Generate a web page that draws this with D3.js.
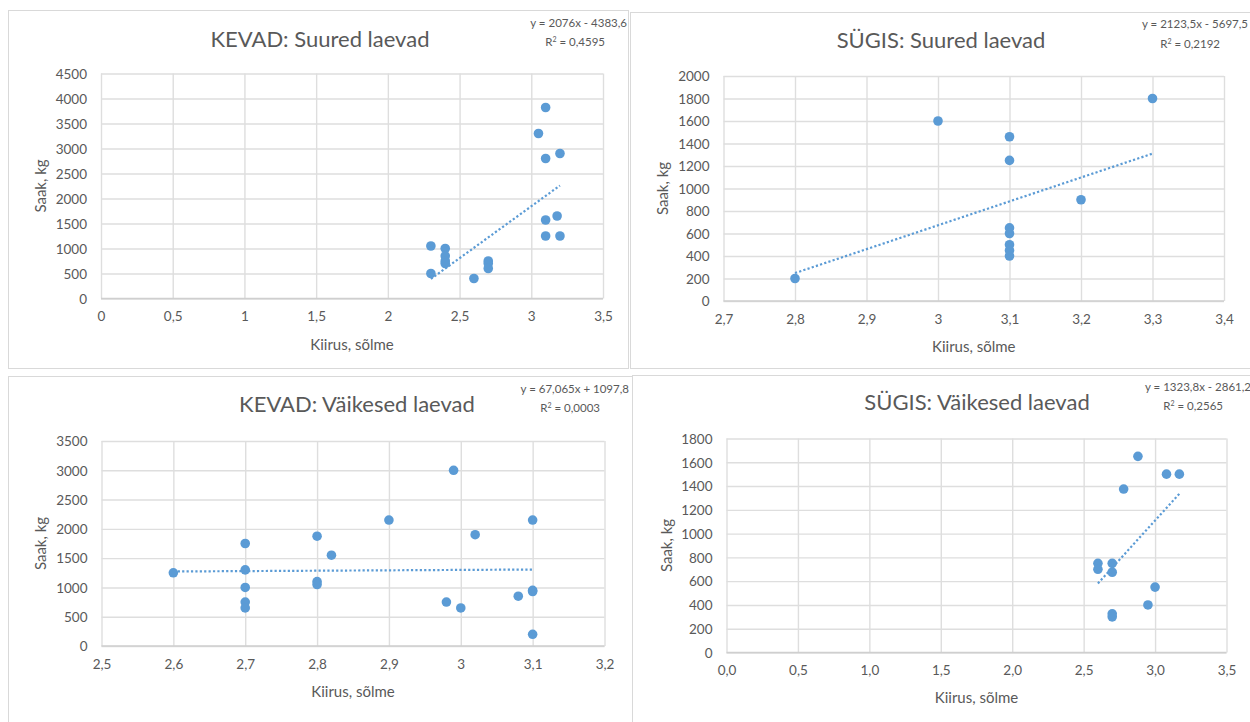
<!DOCTYPE html>
<html>
<head>
<meta charset="utf-8">
<script src="https://cdn.jsdelivr.net/npm/d3@7"></script>
<style>
  html, body { margin: 0; padding: 0; background: #ffffff; }
  svg { display: block; font-family: Lato, "Open Sans", sans-serif; }
</style>
</head>
<body>
<svg id="chart" width="1250" height="722"></svg>
<script>
// Saak (kg) vs kiirus (sõlme), four groups
const kevadSuuredX = [2.3, 2.3, 2.4, 2.4, 2.4, 2.4, 2.6, 2.7, 2.7, 2.7, 3.05, 3.1, 3.1, 3.2, 3.1, 3.18, 3.1, 3.2];
const kevadSuuredY = [1050, 500, 1000, 850, 750, 700, 400, 750, 700, 600, 3300, 3820, 2800, 2900, 1570, 1650, 1250, 1250];

const sygisSuuredX = [2.8, 3.0, 3.1, 3.1, 3.1, 3.1, 3.1, 3.1, 3.1, 3.2, 3.3];
const sygisSuuredY = [200, 1600, 1460, 1250, 650, 600, 500, 450, 400, 900, 1800];

const kevadVaikesedX = [2.6, 2.7, 2.7, 2.7, 2.7, 2.7, 2.8, 2.8, 2.8, 2.82, 2.9, 2.98, 2.99, 3.0, 3.02, 3.08, 3.1, 3.1, 3.1, 3.1];
const kevadVaikesedY = [1250, 1750, 1300, 1000, 750, 650, 1875, 1100, 1050, 1550, 2150, 750, 3000, 650, 1900, 850, 2150, 950, 930, 200];

const sygisVaikesedX = [2.6, 2.6, 2.7, 2.7, 2.7, 2.7, 2.78, 2.88, 2.95, 3.0, 3.08, 3.17];
const sygisVaikesedY = [750, 700, 750, 675, 325, 300, 1375, 1650, 400, 550, 1500, 1500];

// Linear trend lines: y = slope * x + intercept
const trendSlopes = [2076, 2123.5, 67.065, 1323.8];
const trendIntercepts = [-4383.6, -5697.5, 1097.8, -2861.2];
const rSquared = ["0,4595", "0,2192", "0,0003", "0,2565"];

const titles = ["KEVAD: Suured laevad", "SÜGIS: Suured laevad", "KEVAD: Väikesed laevad", "SÜGIS: Väikesed laevad"];

// Axis ticks
const xTicksKevadSuured = [0, 0.5, 1, 1.5, 2, 2.5, 3, 3.5];
const xLabelsKevadSuured = ["0", "0,5", "1", "1,5", "2", "2,5", "3", "3,5"];
const yTicksKevadSuured = [0, 500, 1000, 1500, 2000, 2500, 3000, 3500, 4000, 4500];

const xTicksSygisSuured = [2.7, 2.8, 2.9, 3.0, 3.1, 3.2, 3.3, 3.4];
const xLabelsSygisSuured = ["2,7", "2,8", "2,9", "3", "3,1", "3,2", "3,3", "3,4"];
const yTicksSygisSuured = [0, 200, 400, 600, 800, 1000, 1200, 1400, 1600, 1800, 2000];

const xTicksKevadVaikesed = [2.5, 2.6, 2.7, 2.8, 2.9, 3.0, 3.1, 3.2];
const xLabelsKevadVaikesed = ["2,5", "2,6", "2,7", "2,8", "2,9", "3", "3,1", "3,2"];
const yTicksKevadVaikesed = [0, 500, 1000, 1500, 2000, 2500, 3000, 3500];

const xTicksSygisVaikesed = [0, 0.5, 1, 1.5, 2, 2.5, 3, 3.5];
const xLabelsSygisVaikesed = ["0,0", "0,5", "1,0", "1,5", "2,0", "2,5", "3,0", "3,5"];
const yTicksSygisVaikesed = [0, 200, 400, 600, 800, 1000, 1200, 1400, 1600, 1800];

const xAxisTitle = "Kiirus, sõlme";
const yAxisTitle = "Saak, kg";

// Panel layout (pixel geometry)
const panels = [
  { xs: kevadSuuredX, ys: kevadSuuredY, xTicks: xTicksKevadSuured, xLabels: xLabelsKevadSuured, yTicks: yTicksKevadSuured,
    frame: [8, 10, 620, 358], plot: [101, 73.5, 603, 298.5],
    titleX: 320, titleY: 47, eqX: 627, eqY: 27, r2X: 605, r2Y: 46, xTitleY: 350, yTitleX: 40 },
  { xs: sygisSuuredX, ys: sygisSuuredY, xTicks: xTicksSygisSuured, xLabels: xLabelsSygisSuured, yTicks: yTicksSygisSuured,
    frame: [630, 12, 640, 356], plot: [723.5, 76, 1224, 301],
    titleX: 941, titleY: 48, eqX: 1248, eqY: 28, r2X: 1220, r2Y: 48, xTitleY: 352, yTitleX: 662 },
  { xs: kevadVaikesedX, ys: kevadVaikesedY, xTicks: xTicksKevadVaikesed, xLabels: xLabelsKevadVaikesed, yTicks: yTicksKevadVaikesed,
    frame: [8, 376, 624, 360], plot: [101.5, 441, 604.5, 646],
    titleX: 357, titleY: 412, eqX: 629, eqY: 393, r2X: 600, r2Y: 412, xTitleY: 697, yTitleX: 40 },
  { xs: sygisVaikesedX, ys: sygisVaikesedY, xTicks: xTicksSygisVaikesed, xLabels: xLabelsSygisVaikesed, yTicks: yTicksSygisVaikesed,
    frame: [632, 375, 640, 360], plot: [726.5, 438.5, 1226.5, 652.5],
    titleX: 977, titleY: 410, eqX: 1251, eqY: 391, r2X: 1223, r2Y: 410, xTitleY: 703, yTitleX: 666 }
];

const TEXT = "#595959";
const GRID = "#dedede";
const DOT = "#5b9bd5";

const fmtNum = v => String(Math.abs(v)).replace(".", ",");

const svg = d3.select("#chart");

panels.forEach((p, i) => {
  const g = svg.append("g");
  const [fx, fy, fw, fh] = p.frame;
  g.append("rect").attr("x", fx + 0.5).attr("y", fy + 0.5).attr("width", fw).attr("height", fh)
    .attr("fill", "#ffffff").attr("stroke", "#d9d9d9").attr("stroke-width", 1);

  const [x0, y0, x1, y1] = p.plot;
  const x = d3.scaleLinear().domain(d3.extent(p.xTicks)).range([x0, x1]);
  const y = d3.scaleLinear().domain(d3.extent(p.yTicks)).range([y1, y0]);

  // Gridlines
  const xAxis = d3.axisBottom(x).tickValues(p.xTicks).tickSize(-(y1 - y0)).tickFormat((d, k) => p.xLabels[k]).tickPadding(13);
  const yAxis = d3.axisLeft(y).tickValues(p.yTicks).tickSize(-(x1 - x0)).tickFormat(d => String(d)).tickPadding(14);

  const gx = g.append("g").attr("transform", `translate(0,${y1})`).call(xAxis);
  const gy = g.append("g").attr("transform", `translate(${x0},0)`).call(yAxis);
  [gx, gy].forEach(ax => {
    ax.select(".domain").remove();
    ax.selectAll(".tick line").attr("stroke", GRID).attr("stroke-width", 1.4);
    ax.selectAll(".tick text").attr("fill", TEXT).style("font-size", "13.5px").style("font-family", "Lato, sans-serif");
  });
  gy.selectAll(".tick text").attr("dy", "0.35em");
  // bottom axis line
  g.append("line").attr("x1", x0).attr("x2", x1).attr("y1", y1).attr("y2", y1)
    .attr("stroke", "#cfcfcf").attr("stroke-width", 1.4);

  // Trend line across the data range
  const ext = d3.extent(p.xs);
  const line = d3.line().x(d => x(d)).y(d => y(trendSlopes[i] * d + trendIntercepts[i]));
  g.append("path").datum(ext).attr("d", line).attr("fill", "none")
    .attr("stroke", DOT).attr("stroke-width", 2.2).attr("stroke-dasharray", "2.2,2.2");

  // Points
  g.append("g").selectAll("circle").data(p.xs.map((v, k) => [v, p.ys[k]])).join("circle")
    .attr("cx", d => x(d[0])).attr("cy", d => y(d[1])).attr("r", 4.8).attr("fill", DOT);

  // Title
  g.append("text").attr("x", p.titleX).attr("y", p.titleY).attr("text-anchor", "middle")
    .attr("fill", TEXT).style("font-size", "22px").text(titles[i]);

  // Trend equation and R²
  const sign = trendIntercepts[i] < 0 ? "-" : "+";
  g.append("text").attr("x", p.eqX).attr("y", p.eqY).attr("text-anchor", "end")
    .attr("fill", TEXT).style("font-size", "11.5px")
    .text(`y = ${fmtNum(trendSlopes[i])}x ${sign} ${fmtNum(trendIntercepts[i])}`);
  const r2 = g.append("text").attr("x", p.r2X).attr("y", p.r2Y).attr("text-anchor", "end")
    .attr("fill", TEXT).style("font-size", "11.5px");
  r2.append("tspan").text("R");
  r2.append("tspan").attr("dy", -4).style("font-size", "7px").text("2");
  r2.append("tspan").attr("dy", 4).text(` = ${rSquared[i]}`);

  // Axis titles
  g.append("text").attr("x", (x0 + x1) / 2).attr("y", p.xTitleY).attr("text-anchor", "middle")
    .attr("fill", TEXT).style("font-size", "15px").text(xAxisTitle);
  g.append("text").attr("transform", `translate(${p.yTitleX},${(y0 + y1) / 2}) rotate(-90)`)
    .attr("text-anchor", "middle").attr("dominant-baseline", "central")
    .attr("fill", TEXT).style("font-size", "15px").text(yAxisTitle);
});
</script>
</body>
</html>
